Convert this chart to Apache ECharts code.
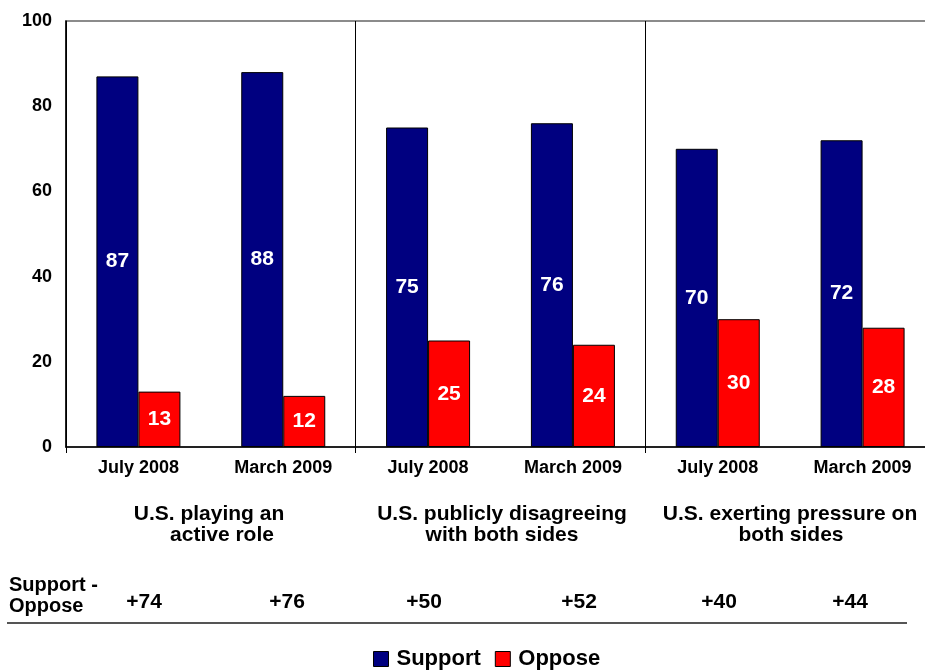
<!DOCTYPE html>
<html>
<head>
<meta charset="utf-8">
<script src="https://cdn.jsdelivr.net/npm/echarts@6/dist/echarts.min.js"></script>
<style>
html,body{margin:0;padding:0;background:#fff;}
#main{width:925px;height:671px;}
</style>
</head>
<body>
<div id="main"></div>
<script>
const categories = ['July 2008','March 2009','July 2008','March 2009','July 2008','March 2009'];
const support = [87, 88, 75, 76, 70, 72];
const oppose = [13, 12, 25, 24, 30, 28];
const yTicks = [0, 20, 40, 60, 80, 100];
const groupLabels = [['U.S. playing an','active role'],['U.S. publicly disagreeing','with both sides'],['U.S. exerting pressure on','both sides']];
const diffLabels = ['+74','+76','+50','+52','+40','+44'];

const FONT = 'Liberation Sans, Arial, sans-serif';

const chart = echarts.init(document.getElementById('main'));

const groupPos = [[209, 222],[502, 502],[790, 791]];
const diffX = [144, 287, 424, 579, 719, 850];

const graphics = [];
groupLabels.forEach((lines, g) => {
  lines.forEach((t, i) => {
    graphics.push({type:'text', x: groupPos[g][i], y: 514 + i*21,
      style:{text:t, fill:'#000', font:'bold 21px ' + FONT, textAlign:'center', textVerticalAlign:'middle'}});
  });
});
graphics.push({type:'text', x:9, y:585, style:{text:'Support -', fill:'#000', font:'bold 20px ' + FONT, textAlign:'left', textVerticalAlign:'middle'}});
graphics.push({type:'text', x:9, y:606, style:{text:'Oppose', fill:'#000', font:'bold 20px ' + FONT, textAlign:'left', textVerticalAlign:'middle'}});
diffLabels.forEach((t, i) => {
  graphics.push({type:'text', x: diffX[i], y: 602, style:{text:t, fill:'#000', font:'bold 21px ' + FONT, textAlign:'center', textVerticalAlign:'middle'}});
});
graphics.push({type:'line', shape:{x1:7, y1:623, x2:907, y2:623}, style:{stroke:'#555', lineWidth:2}});

chart.setOption({
  animation: false,
  backgroundColor: '#fff',
  grid: {left: 66, top: 21, height: 426, width: 869, show: true, borderColor: '#666', borderWidth: 1.5,
    containLabel: false, outerBoundsMode: 'none'},
  legend: {
    data: ['Support','Oppose'],
    top: 648, left: 373, padding: 0,
    itemWidth: 15, itemHeight: 15, itemGap: 14,
    icon: 'rect',
    itemStyle: {borderColor: '#000', borderWidth: 1},
    textStyle: {fontFamily: FONT, fontWeight: 'bold', fontSize: 22, color: '#000', padding: [0,0,0,3]}
  },
  xAxis: {
    type: 'category',
    data: categories,
    axisLine: {lineStyle: {color: '#000', width: 1.5}},
    axisTick: {show: true, length: 6, interval: (i) => i % 2 === 0, lineStyle: {color: '#000', width: 1}},
    splitLine: {show: true, interval: (i) => i % 2 === 0, lineStyle: {color: '#000', width: 1}},
    axisLabel: {color: '#000', fontFamily: FONT, fontWeight: 'bold', fontSize: 18, margin: 12, interval: 0}
  },
  yAxis: {
    type: 'value', min: 0, max: 100, interval: 20,
    axisLine: {show: true, lineStyle: {color: '#000', width: 1.5}},
    axisTick: {show: false},
    splitLine: {show: false},
    axisLabel: {color: '#000', fontFamily: FONT, fontWeight: 'bold', fontSize: 18, margin: 14,
      formatter: (v) => yTicks.includes(v) ? String(v) : ''}
  },
  series: [
    {name: 'Support', type: 'bar', data: support, barWidth: 42, barGap: '0%',
      itemStyle: {color: '#000080', borderColor: '#000', borderWidth: 1},
      label: {show: true, position: 'inside', color: '#fff', fontFamily: FONT, fontWeight: 'bold', fontSize: 21}},
    {name: 'Oppose', type: 'bar', data: oppose, barWidth: 42,
      itemStyle: {color: '#ff0000', borderColor: '#000', borderWidth: 1},
      label: {show: true, position: 'inside', color: '#fff', fontFamily: FONT, fontWeight: 'bold', fontSize: 21}}
  ],
  graphic: graphics
});
</script>
</body>
</html>
